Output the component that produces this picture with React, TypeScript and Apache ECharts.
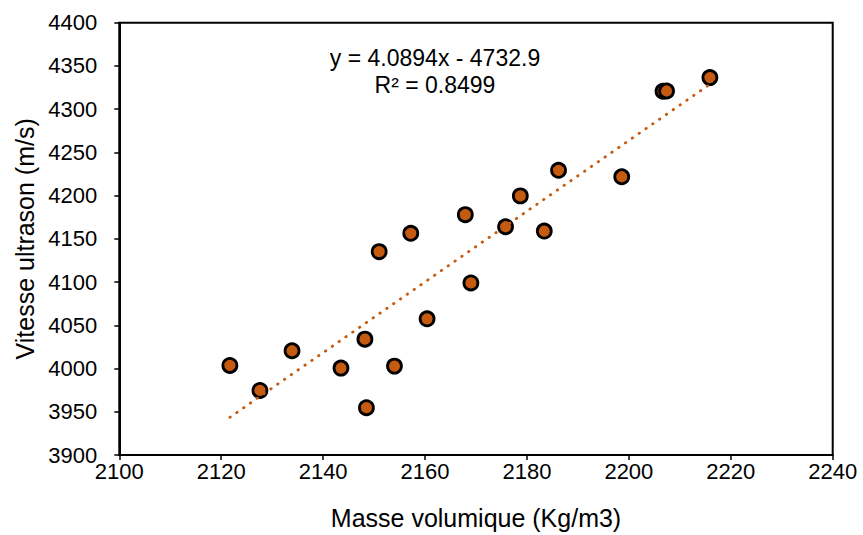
import React, { useEffect, useRef } from "react";
import * as echarts from "echarts";

const densite: number[] = [
  2121.7, 2127.6, 2133.9, 2143.5, 2148.2, 2148.5, 2151.0, 2154.0, 2157.2, 2160.4,
  2167.9, 2169.0, 2175.8, 2178.7, 2183.4, 2186.2, 2198.6, 2206.7, 2207.4, 2215.9,
];
const vitesse: number[] = [
  4003.6, 3974.7, 4020.6, 4000.5, 4034.0, 3954.7, 4135.2, 4002.8, 4156.4, 4057.5,
  4178.0, 4099.0, 4164.0, 4199.7, 4159.0, 4229.3, 4221.8, 4320.8, 4321.0, 4336.5,
];
const pente = 4.0894;
const ordonnee = -4732.9;
const equationLabel = "y = 4.0894x - 4732.9";
const r2Label = "R² = 0.8499";
const xTitle = "Masse volumique (Kg/m3)";
const yTitle = "Vitesse ultrason (m/s)";

const FONT = "'Liberation Sans', Arial, sans-serif";
const ORANGE = "#C55A11";

export default function App() {
  const ref = useRef<HTMLDivElement>(null);
  useEffect(() => {
    if (!ref.current) return;
    const chart = echarts.init(ref.current, undefined, { renderer: "svg" });
    const points = densite.map((x, i) => [x, vitesse[i]]);
    const xMin = Math.min(...densite);
    const xMax = Math.max(...densite);
    const trend = [
      [xMin, pente * xMin + ordonnee],
      [xMax, pente * xMax + ordonnee],
    ];
    const plain = (v: number) => String(v);
    chart.setOption({
      animation: false,
      backgroundColor: "#ffffff",
      grid: {
        left: 119.3,
        right: 30.3,
        top: 22.7,
        bottom: 79.3,
        show: true,
        borderColor: "#000",
        borderWidth: 2,
        backgroundColor: "transparent",
      },
      xAxis: {
        type: "value",
        min: 2100,
        max: 2240,
        interval: 20,
        name: xTitle,
        nameLocation: "middle",
        nameGap: 50,
        nameTextStyle: { fontFamily: FONT, fontSize: 25, color: "#000" },
        axisLine: { show: true, lineStyle: { color: "#000", width: 2 } },
        axisTick: { show: true, length: 5, lineStyle: { color: "#000", width: 1.5 } },
        axisLabel: { fontFamily: FONT, fontSize: 22, color: "#000", margin: 5, formatter: plain },
        splitLine: { show: false },
      },
      yAxis: {
        type: "value",
        min: 3900,
        max: 4400,
        interval: 50,
        name: yTitle,
        nameLocation: "middle",
        nameGap: 76,
        nameTextStyle: { fontFamily: FONT, fontSize: 25, color: "#000" },
        axisLine: { show: true, lineStyle: { color: "#000", width: 2 } },
        axisTick: { show: true, length: 5, lineStyle: { color: "#000", width: 1.5 } },
        axisLabel: { fontFamily: FONT, fontSize: 22, color: "#000", margin: 22, formatter: plain },
        splitLine: { show: false },
      },
      series: [
        {
          type: "scatter",
          data: points,
          symbol: "circle",
          symbolSize: 14,
          itemStyle: { color: ORANGE, borderColor: "#000", borderWidth: 2.8, opacity: 1 },
          z: 2,
        },
        {
          type: "line",
          data: trend,
          symbol: "none",
          lineStyle: { color: ORANGE, width: 2.8, type: [0.5, 7.8], cap: "round" },
          z: 3,
          silent: true,
        },
      ],
      graphic: [
        {
          type: "text",
          x: 435,
          y: 58,
          style: {
            text: equationLabel,
            fontFamily: FONT,
            fontSize: 23,
            fill: "#000",
            align: "center",
            verticalAlign: "middle",
          },
        },
        {
          type: "text",
          x: 435,
          y: 85,
          style: {
            text: r2Label,
            fontFamily: FONT,
            fontSize: 23,
            fill: "#000",
            align: "center",
            verticalAlign: "middle",
          },
        },
      ],
    });
    return () => chart.dispose();
  }, []);
  return <div ref={ref} style={{ width: 863, height: 535, position: "absolute", left: 0, top: 0 }} />;
}
